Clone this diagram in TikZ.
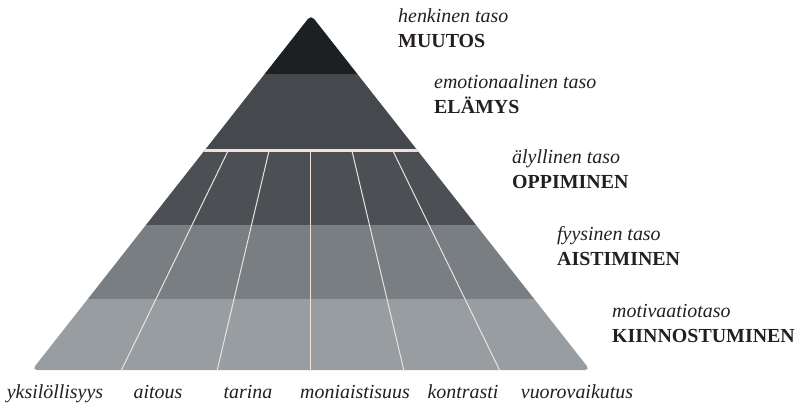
\documentclass[tikz,border=0pt]{standalone}
\usepackage{fontspec}
\setmainfont{Liberation Serif}
\usepackage{tikz}
\usetikzlibrary{calc, positioning}

\definecolor{huippu}{HTML}{1C2022}
\definecolor{elamys}{HTML}{45494D}
\definecolor{oppi}{HTML}{4C5054}
\definecolor{aisti}{HTML}{797E82}
\definecolor{kiinn}{HTML}{989DA1}
\definecolor{viiva}{HTML}{EEE2DC}
\definecolor{teksti}{HTML}{231F20}

\tikzset{
	taso/.style={font=\fontsize{20}{22}\selectfont\itshape, text=teksti, inner sep=0pt, anchor=base west},
	tasonimi/.style={font=\fontsize{20}{22}\selectfont\bfseries, text=teksti, inner sep=0pt, anchor=base west},
	alaotsikko/.style={font=\fontsize{20}{22}\selectfont\itshape, text=teksti, inner sep=0pt, anchor=base},
	sarake/.style={draw=viiva, line width=1pt}
}

\begin{document}
\begin{tikzpicture}[x=1bp, y=-1bp]
				\useasboundingbox (0,0) rectangle (802,411);
				\coordinate (apex) at (311,15);
				\coordinate (bl) at (32,370);
				\coordinate (br) at (590,370);
				\begin{scope}
					\clip[rounded corners=5bp] (apex) -- (br) -- (bl) -- cycle;
					\foreach \ya/\yb/\c in {0/74/huippu, 74/150/elamys, 150/225/oppi, 225/299/aisti, 299/380/kiinn}
						\fill[\c] (0,\ya) rectangle (802,\yb);
					\fill[viiva] (0,148.5) rectangle (802,151.5);
					\foreach \xa/\xb in {228/121, 269/217, 310.5/310.5, 352/404, 393/500}
						\draw[sarake] (\xa,151) -- (\xb,371);
				\end{scope}
				\foreach \x/\y/\a/\b [count=\i] in {
					398/22/henkinen taso/MUUTOS,
					434/88/emotionaalinen taso/ELÄMYS,
					512/163/älyllinen taso/OPPIMINEN,
					557/240/fyysinen taso/AISTIMINEN,
					612/317/motivaatiotaso/KIINNOSTUMINEN}{
					\node[taso] (taso\i) at (\x,\y) {\a};
					\node[tasonimi] (nimi\i) at (\x,\y+25) {\b};
				}
				\foreach \x/\t [count=\i] in {
					55/yksilöllisyys, 158/aitous, 248/tarina,
					355/moniaistisuus, 463/kontrasti, 577/vuorovaikutus}
					\node[alaotsikko] (ala\i) at (\x,398) {\t};
			\end{tikzpicture}
\end{document}
